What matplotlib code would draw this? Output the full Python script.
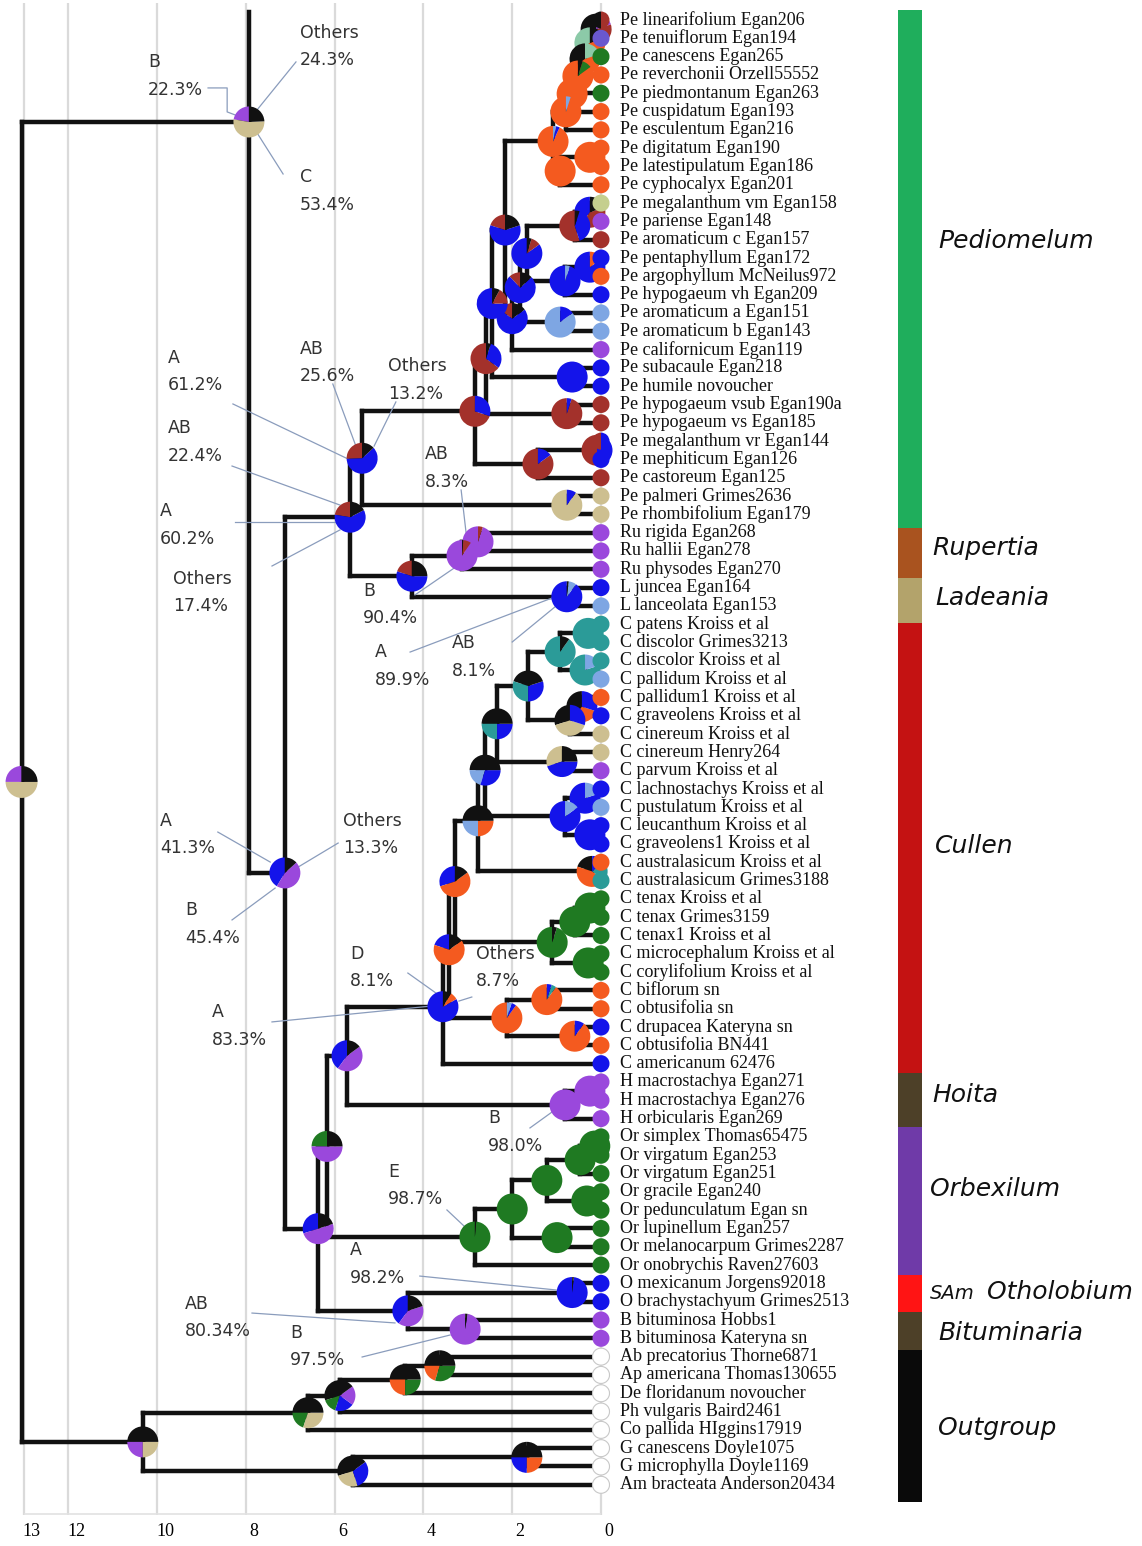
import matplotlib
matplotlib.use("Agg")
import matplotlib.pyplot as plt
import matplotlib.transforms as mtrans
from matplotlib.patches import Wedge
from matplotlib.collections import LineCollection

# ---------------- tip data ----------------
tip_names = [
    "Pe linearifolium Egan206", "Pe tenuiflorum Egan194", "Pe canescens Egan265",
    "Pe reverchonii Orzell55552", "Pe piedmontanum Egan263", "Pe cuspidatum Egan193",
    "Pe esculentum Egan216", "Pe digitatum Egan190", "Pe latestipulatum Egan186",
    "Pe cyphocalyx Egan201", "Pe megalanthum vm Egan158", "Pe pariense Egan148",
    "Pe aromaticum c Egan157", "Pe pentaphyllum Egan172", "Pe argophyllum McNeilus972",
    "Pe hypogaeum vh Egan209", "Pe aromaticum a Egan151", "Pe aromaticum b Egan143",
    "Pe californicum Egan119", "Pe subacaule Egan218", "Pe humile novoucher",
    "Pe hypogaeum vsub Egan190a", "Pe hypogaeum vs Egan185", "Pe megalanthum vr Egan144",
    "Pe mephiticum Egan126", "Pe castoreum Egan125", "Pe palmeri Grimes2636",
    "Pe rhombifolium Egan179", "Ru rigida Egan268", "Ru hallii Egan278",
    "Ru physodes Egan270", "L juncea Egan164", "L lanceolata Egan153",
    "C patens Kroiss et al", "C discolor Grimes3213", "C discolor Kroiss et al",
    "C pallidum Kroiss et al", "C pallidum1 Kroiss et al", "C graveolens Kroiss et al",
    "C cinereum Kroiss et al", "C cinereum Henry264", "C parvum Kroiss et al",
    "C lachnostachys Kroiss et al", "C pustulatum Kroiss et al", "C leucanthum Kroiss et al",
    "C graveolens1 Kroiss et al", "C australasicum Kroiss et al", "C australasicum Grimes3188",
    "C tenax Kroiss et al", "C tenax Grimes3159", "C tenax1 Kroiss et al",
    "C microcephalum Kroiss et al", "C corylifolium Kroiss et al", "C biflorum sn",
    "C obtusifolia sn", "C drupacea Kateryna sn", "C obtusifolia BN441",
    "C americanum 62476", "H macrostachya Egan271", "H macrostachya Egan276",
    "H orbicularis Egan269", "Or simplex Thomas65475", "Or virgatum Egan253",
    "Or virgatum Egan251", "Or gracile Egan240", "Or pedunculatum Egan sn",
    "Or lupinellum Egan257", "Or melanocarpum Grimes2287", "Or onobrychis Raven27603",
    "O mexicanum Jorgens92018", "O brachystachyum Grimes2513", "B bituminosa Hobbs1",
    "B bituminosa Kateryna sn", "Ab precatorius Thorne6871", "Ap americana Thomas130655",
    "De floridanum novoucher", "Ph vulgaris Baird2461", "Co pallida HIggins17919",
    "G canescens Doyle1075", "G microphylla Doyle1169", "Am bracteata Anderson20434",
]

tip_states = [
    [("O", .5), ("AB", .5)], "SB", "E", "D", "E", "D", "D", "D", "D", "D",
    "Y", "B", "AB", "A", "D", "A", "LB", "LB", "B", "A",
    "A", "AB", "AB", [("AB", .5), ("A", .5)], "A", "AB", "C", "C", "B", "B",
    "B", "A", "LB", "T", "T", "T", "LB", "D", "A", "C",
    "C", "B", "A", "LB", "A", "A", "D", "T", "E", "E",
    "E", "E", "E", "D", "D", "A", "D", "A", "B", "B",
    "B", "E", "E", "E", "E", "E", "E", "E", "E", "A",
    "A", "B", "B", "W", "W", "W", "W", "W", "W", "W", "W",
]

state_colors = {
    "A": "#1414ea", "B": "#9a48dc", "AB": "#a3312b", "C": "#cdbf90",
    "D": "#f45a1f", "E": "#1f7a22", "LB": "#7ea6e3", "T": "#2b9b98",
    "LG": "#8ccaa8", "SB": "#6a58d0", "Y": "#c5cf8e", "O": "#111111",
    "W": "#ffffff",
}

# ---------------- tree (ages in Ma) ----------------
def node(age, pie, *kids):
    return {"age": age, "pie": pie, "kids": list(kids)}

EE = [("E", 1.0)]
BB = [("B", 1.0)]
DD = [("D", 1.0)]

# Pediomelum
n01 = node(0.11, [("O", .5), ("AB", .3), ("B", .2)], 0, 1)
n02 = node(0.25, [("LG", .35), ("D", .45), ("O", .2)], n01, 2)
n03 = node(0.36, [("O", .35), ("D", .45), ("LG", .2)], n02, 3)
n04 = node(0.52, [("D", .85), ("E", .1), ("O", .05)], n03, 4)
n05 = node(0.65, DD, n04, 5)
n06 = node(0.79, [("D", .95), ("LB", .05)], n05, 6)
n78 = node(0.25, DD, 7, 8)
n79 = node(0.92, DD, n78, 9)
orange = node(1.08, [("D", .93), ("A", .04), ("LB", .03)], n06, n79)
n1011 = node(0.25, [("A", .4), ("AB", .4), ("O", .2)], 10, 11)
n1012 = node(0.59, [("AB", .55), ("A", .4), ("O", .05)], n1011, 12)
n1314 = node(0.25, [("A", .85), ("D", .15)], 13, 14)
n1315 = node(0.81, [("A", .95), ("LB", .05)], n1314, 15)
pe_a = node(1.67, [("A", .85), ("AB", .1), ("O", .05)], n1012, n1315)
n1617 = node(0.92, [("LB", .85), ("A", .15)], 16, 17)
pe_b = node(1.82, [("AB", .12), ("A", .75), ("O", .13)], pe_a, n1617)
pe_c = node(2.0, [("AB", .15), ("A", .7), ("O", .15)], pe_b, 18)
pe_q = node(2.16, [("AB", .2), ("A", .6), ("O", .2)], orange, pe_c)
n1920 = node(0.65, [("A", 1.0)], 19, 20)
pe_d = node(2.45, [("A", .75), ("AB", .17), ("O", .08)], pe_q, n1920)
n2122 = node(0.77, [("AB", .95), ("A", .05)], 21, 22)
pe_e = node(2.59, [("AB", .65), ("A", .3), ("O", .05)], pe_d, n2122)
n2324 = node(0.09, [("AB", .5), ("A", .5)], 23, 24)
n2325 = node(1.42, [("AB", .85), ("A", .15)], n2324, 25)
pe_f = node(2.84, [("AB", .7), ("A", .3)], pe_e, n2325)
palmeri = node(0.77, [("C", .9), ("A", .1)], 26, 27)
pe_crown = node(5.38, [("AB", .256), ("A", .612), ("O", .132)], pe_f, palmeri)

# Rupertia + Ladeania
ru_in = node(2.77, [("B", .95), ("AB", .05)], 28, 29)
rupertia = node(3.13, [("B", .904), ("AB", .083), ("O", .013)], ru_in, 30)
ladeania = node(0.77, [("A", .899), ("LB", .081), ("O", .02)], 31, 32)
ru_lad = node(4.26, [("AB", .2), ("A", .55), ("O", .25)], rupertia, ladeania)
pe_ru = node(5.65, [("AB", .224), ("A", .602), ("O", .174)], pe_crown, ru_lad)

# Cullen
t3334 = node(0.29, [("T", 1.0)], 33, 34)
t3536 = node(0.36, [("T", .8), ("LB", .2)], 35, 36)
teal = node(0.92, [("T", .9), ("O", .1)], t3334, t3536)
n3738 = node(0.43, [("O", .4), ("D", .3), ("A", .3)], 37, 38)
n3739 = node(0.7, [("O", .3), ("C", .4), ("A", .3)], n3738, 39)
cu_k4 = node(1.64, [("O", .2), ("T", .3), ("A", .3), ("O", .2)], teal, n3739)
n4041 = node(0.88, [("C", .3), ("A", .45), ("O", .25)], 40, 41)
cu_k3 = node(2.34, [("O", .25), ("T", .25), ("A", .25), ("O", .25)], cu_k4, n4041)
n4243 = node(0.36, [("A", .8), ("LB", .2)], 42, 43)
n4445 = node(0.25, [("A", 1.0)], 44, 45)
blue = node(0.81, [("A", .85), ("LB", .15)], n4243, n4445)
cu_k2 = node(2.61, [("O", .25), ("LB", .2), ("A", .3), ("O", .25)], cu_k3, blue)
n4647 = node(0.2, [("O", .2), ("D", .45), ("T", .2), ("A", .15)], 46, 47)
cu_k1 = node(2.77, [("O", .25), ("LB", .25), ("D", .25), ("O", .25)], cu_k2, n4647)
n4849 = node(0.25, EE, 48, 49)
n4850 = node(0.59, EE, n4849, 50)
n5152 = node(0.29, EE, 51, 52)
tenax = node(1.1, [("E", .95), ("O", .05)], n4850, n5152)
cu_c3 = node(3.29, [("A", .3), ("D", .55), ("O", .15)], cu_k1, tenax)
n5354 = node(1.22, [("D", .9), ("T", .05), ("A", .05)], 53, 54)
n5556 = node(0.59, [("D", .9), ("A", .1)], 55, 56)
n5356 = node(2.12, [("D", .9), ("A", .05), ("LB", .05)], n5354, n5556)
cu_c2 = node(3.42, [("A", .2), ("D", .65), ("O", .15)], cu_c3, n5356)
cullen = node(3.56, [("A", .833), ("D", .081), ("O", .087)], cu_c2, 57)

# Hoita, Orbexilum, Otholobium, Bituminaria
h5859 = node(0.25, BB, 58, 59)
hoita = node(0.81, BB, h5859, 60)
cu_ho = node(5.72, [("A", .4), ("B", .45), ("O", .15)], cullen, hoita)
o6162 = node(0.14, EE, 61, 62)
o6163 = node(0.47, EE, o6162, 63)
o6465 = node(0.32, EE, 64, 65)
or_b = node(1.22, EE, o6163, o6465)
o6667 = node(0.99, EE, 66, 67)
or_a = node(2.0, EE, or_b, o6667)
orbexilum = node(2.84, [("E", .987), ("O", .013)], or_a, 68)
cu_or = node(6.17, [("E", .25), ("B", .5), ("O", .25)], cu_ho, orbexilum)
otholobium = node(0.65, [("A", .982), ("O", .018)], 69, 70)
bituminaria = node(3.06, [("B", .975), ("O", .025)], 71, 72)
oth_bit = node(4.35, [("A", .4), ("B", .4), ("O", .2)], otholobium, bituminaria)
lower = node(6.37, [("A", .3), ("B", .5), ("O", .2)], cu_or, oth_bit)
backbone = node(7.12, [("A", .413), ("B", .454), ("O", .133)], pe_ru, lower)

ingroup = node(7.93, [("B", .223), ("C", .534), ("O", .243)], backbone)
ingroup["y"] = 5.57
ingroup["top"] = -0.44

# outgroups
og5 = node(3.63, [("O", .25), ("D", .2), ("E", .3), ("O", .25)], 73, 74)
og4 = node(4.41, [("O", .25), ("D", .25), ("E", .25), ("O", .25)], og5, 75)
og3 = node(5.88, [("O", .3), ("E", .15), ("A", .2), ("B", .2), ("O", .15)], og4, 76)
og1 = node(6.6, [("O", .25), ("E", .2), ("C", .3), ("O", .25)], og3, 77)
glycine = node(1.67, [("O", .25), ("A", .25), ("D", .25), ("O", .25)], 78, 79)
og2 = node(5.59, [("O", .3), ("C", .25), ("A", .3), ("O", .15)], glycine, 80)
outgroup = node(10.32, [("O", .25), ("B", .25), ("C", .25), ("O", .25)], og1, og2)

root = node(13.05, [("B", .25), ("C", .5), ("O", .25)], ingroup, outgroup)

# ---------------- annotations: (text, age, row, leader ages, leader rows) ----------------
notes = [
    ("B\n22.3%", 10.2, 3.06, [8.85, 8.42, 8.42, 8.18], [3.71, 3.71, 5.02, 5.24]),
    ("Others\n24.3%", 6.78, 1.47, [6.87, 7.75], [2.29, 4.92]),
    ("C\n53.4%", 6.78, 9.34, [7.16, 7.73], [8.41, 6.23]),
    ("AB\n25.6%", 6.78, 18.73, [6.04, 5.52], [19.88, 23.27]),
    ("Others\n13.2%", 4.80, 19.66, [4.62, 5.11], [20.86, 23.27]),
    ("A\n61.2%", 9.75, 19.22, [8.29, 5.65], [20.97, 24.03]),
    ("AB\n22.4%", 9.75, 23.05, [8.31, 5.88], [24.36, 26.49]),
    ("A\n60.2%", 9.93, 27.58, [8.24, 5.97], [27.42, 27.42]),
    ("Others\n17.4%", 9.64, 31.29, [7.41, 5.88], [29.82, 27.85]),
    ("AB\n8.3%", 3.96, 24.47, [3.15, 3.02], [25.67, 28.4]),
    ("B\n90.4%", 5.36, 31.9, [4.19, 3.27], [31.4, 29.87]),
    ("A\n89.9%", 5.09, 35.28, [4.30, 0.92], [34.52, 31.4]),
    ("AB\n8.1%", 3.36, 34.79, [2.0, 1.04], [33.97, 32.06]),
    ("A\n41.3%", 9.93, 44.46, [8.63, 7.45], [44.35, 45.99]),
    ("Others\n13.3%", 5.81, 44.46, [5.92, 6.82], [44.95, 46.26]),
    ("B\n45.4%", 9.37, 49.37, [8.31, 7.34], [49.15, 47.41]),
    ("D\n8.1%", 5.65, 51.77, [4.35, 3.69], [52.05, 53.19]),
    ("Others\n8.7%", 2.82, 51.77, [2.91, 3.2], [53.36, 53.58]),
    ("A\n83.3%", 8.76, 54.94, [7.41, 3.81], [54.72, 53.85]),
    ("B\n98.0%", 2.55, 60.73, [1.6, 1.04], [60.51, 59.53]),
    ("E\n98.7%", 4.8, 63.63, [3.47, 3.04], [64.99, 65.97]),
    ("A\n98.2%", 5.65, 67.94, [4.08, 1.01], [68.6, 69.36]),
    ("AB\n80.34%", 9.37, 70.84, [7.86, 4.64], [70.62, 71.16]),
    ("B\n97.5%", 7.0, 72.47, [5.38, 3.4], [73.02, 71.82]),
]

# ---------------- clade bar ----------------
clade_names = ["Pediomelum", "Rupertia", "Ladeania", "Cullen", "Hoita",
               "Orbexilum", "Otholobium", "Bituminaria", "Outgroup"]
clade_edges = [-0.55, 27.74, 30.48, 32.93, 57.51, 60.46, 68.54, 70.56, 72.64, 80.94]
clade_colors = ["#1fae5c", "#a9531f", "#b3a36b", "#c41212", "#4d4028",
                "#6f3aa8", "#ff1414", "#4d4028", "#0a0a0a"]
clade_label_rows = [12.07, 28.84, 31.57, 45.11, 58.71, 63.84, 69.47, 71.71, 76.9]
clade_label_x = [40, 34, 37, 37, 34, 32, 89, 40, 40]

axis_ages = [13, 12, 10, 8, 6, 4, 2, 0]

# ---------------- layout ----------------
W, H, DPI = 11.42, 15.46, 100
PX_MA, X0 = 44.4, 601       # px per Ma, px of age 0
Y0, ROW = 20, 18.31         # px of first tip, px per tip
AX_L, AX_R, AX_T, AX_B = 5, 615, 3, 1515

fig = plt.figure(figsize=(W, H), dpi=DPI)
fw, fh = W * DPI, H * DPI
ax = fig.add_axes([AX_L / fw, 1 - AX_B / fh, (AX_R - AX_L) / fw, (AX_B - AX_T) / fh])
ax.set_xlim((X0 - AX_L) / PX_MA, (X0 - AX_R) / PX_MA)
ylo, yhi = (AX_B - Y0) / ROW, (AX_T - Y0) / ROW
ax.set_ylim(ylo, yhi)
for s in ax.spines.values():
    s.set_visible(False)
ax.set_yticks([])

# grid + axis
ax.vlines(axis_ages, yhi, ylo, color="#dadada", lw=1.6, zorder=0)
ax.hlines(ylo - 0.05, axis_ages[0], 0, color="#e2e2e2", lw=1.2, zorder=0)
ax.set_xticks(axis_ages)
ax.set_xticklabels([str(a) for a in axis_ages], fontfamily="Liberation Serif", fontsize=13)
ax.tick_params(axis="x", length=0, pad=6)
for lab in ax.get_xticklabels():
    lab.set_transform(lab.get_transform() + mtrans.ScaledTranslation(0.08, 0, fig.dpi_scale_trans))


def place(n):
    if isinstance(n, int):
        return float(n)
    ys = [place(k) for k in n["kids"]]
    if "y" not in n:
        n["y"] = (ys[0] + ys[-1]) / 2
    return n["y"]


def collect(n, segs, pies):
    x = n["age"]
    ys = []
    for k in n["kids"]:
        if isinstance(k, int):
            ky, kx = float(k), 0.0
        else:
            ky, kx = k["y"], k["age"]
            collect(k, segs, pies)
        segs.append([(x, ky), (kx, ky)])
        ys.append(ky)
    top = min(ys + [n["y"], n.get("top", n["y"])])
    segs.append([(x, top), (x, max(ys + [n["y"]]))])
    pies.append((x, n["y"], n["pie"]))


def draw_pie(x, y, parts, r_px, edge=None):
    tr = fig.dpi_scale_trans + mtrans.ScaledTranslation(x, y, ax.transData)
    r = r_px / DPI
    tot = sum(f for _, f in parts)
    start = 90.0
    for key, f in parts:
        sweep = 360.0 * f / tot
        ax.add_patch(Wedge((0, 0), r, start, start + sweep, transform=tr,
                           facecolor=state_colors[key], edgecolor="none",
                           zorder=5, clip_on=False))
        start += sweep
    if edge:
        ax.add_patch(Wedge((0, 0), r, 0, 360, transform=tr, facecolor="none",
                           edgecolor=edge, lw=0.8, zorder=6, clip_on=False))


place(root)
segs, pies = [], []
collect(root, segs, pies)
ax.add_collection(LineCollection(segs, colors="#111111", linewidths=3.2,
                                 capstyle="projecting", zorder=2))

for x, y, parts in pies:
    draw_pie(x, y, parts, 16 if x > 13 else 15.5)

for i, (name, st) in enumerate(zip(tip_names, tip_states)):
    parts = st if isinstance(st, list) else [(st, 1.0)]
    draw_pie(0.0, i, parts, 8.5, edge="#c8c8c8" if st == "W" else None)
    ax.text(-0.43, i, name, ha="left", va="center", fontfamily="Liberation Serif",
            fontsize=13, color="#111111", clip_on=False)

for txt, tx, ty, lx, ly in notes:
    ax.plot(lx, ly, color="#8a9cbc", lw=0.9, zorder=3, clip_on=False)
    ax.text(tx, ty, txt, ha="left", va="center", fontfamily="DejaVu Sans",
            fontsize=12.5, color="#333333", linespacing=1.65, zorder=7, clip_on=False)

# clade bar
bx = fig.add_axes([898 / fw, 1 - AX_B / fh, 244 / fw, (AX_B - AX_T) / fh])
bx.set_xlim(0, 244)
bx.set_ylim(ylo, yhi)
bx.axis("off")
for lo, hi, c in zip(clade_edges[:-1], clade_edges[1:], clade_colors):
    bx.bar(12, hi - lo, bottom=lo, width=24, color=c, edgecolor="none")
for name, r, lx in zip(clade_names, clade_label_rows, clade_label_x):
    bx.text(lx, r, name, ha="left", va="center", fontfamily="DejaVu Sans",
            style="italic", fontsize=18, color="#111111", clip_on=False)
bx.text(32, clade_label_rows[6] + 0.1, "SAm", ha="left", va="center",
        fontfamily="DejaVu Sans", style="italic", fontsize=14, color="#111111")

fig.savefig("out.png", dpi=DPI)
